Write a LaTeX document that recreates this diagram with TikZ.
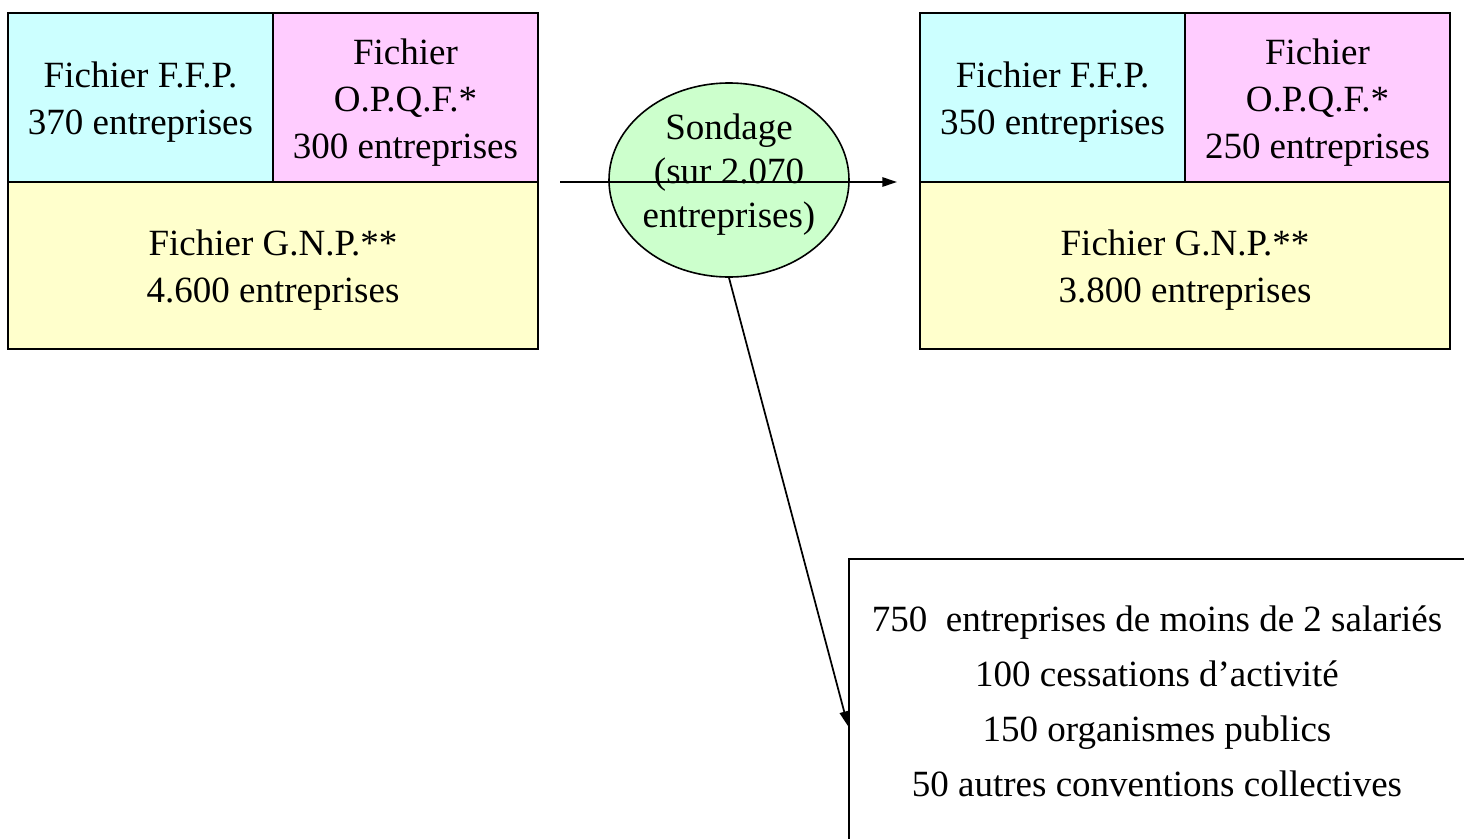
\documentclass[tikz,border=0pt]{standalone}
\usepackage{fontspec}
\setmainfont{Liberation Serif}
\usetikzlibrary{shapes.geometric,arrows.meta}
\definecolor{cyanc}{HTML}{CCFFFF}
\definecolor{pinkc}{HTML}{FFCCFF}
\definecolor{yellowc}{HTML}{FFFFCC}
\definecolor{greenc}{HTML}{CCFFCC}
\tikzset{
  cell/.style={draw=black, line width=1.3pt},
  txt/.style={align=center, inner sep=0pt, font=\fontsize{27.75}{35.25}\selectfont},
  arr/.style={line width=1.3pt, -{Triangle[length=11pt,width=7pt]}},
}
\begin{document}
\begin{tikzpicture}[x=0.75pt,y=-0.75pt]
\useasboundingbox (0,0) rectangle (1464,839);
% left group
\draw[cell, fill=cyanc] (8,13) rectangle (273,182);
\draw[cell, fill=pinkc] (273,13) rectangle (538,182);
\draw[cell, fill=yellowc] (8,182) rectangle (538,349);
\node[txt] (lffp) at (140.5,102) {Fichier F.F.P.\\370 entreprises};
\node[txt] (lopqf) at (405.5,103) {Fichier\\O.P.Q.F.*\\300 entreprises};
\node[txt] (lgnp) at (273,270) {Fichier G.N.P.**\\4.600 entreprises};
% right group
\draw[cell, fill=cyanc] (920,13) rectangle (1185,182);
\draw[cell, fill=pinkc] (1185,13) rectangle (1450,182);
\draw[cell, fill=yellowc] (920,182) rectangle (1450,349);
\node[txt] (rffp) at (1052.5,102) {Fichier F.F.P.\\350 entreprises};
\node[txt] (ropqf) at (1317.5,103) {Fichier\\O.P.Q.F.*\\250 entreprises};
\node[txt] (rgnp) at (1185,270) {Fichier G.N.P.**\\3.800 entreprises};
% ellipse
\node[ellipse, draw=black, line width=1.2pt, fill=greenc, inner sep=0pt,
      minimum width=180pt, minimum height=145.5pt] (sond) at (729,180) {};
\node[txt, font=\fontsize{27.75}{33}\selectfont] (sondt) at (729,175) {Sondage\\(sur 2.070\\entreprises)};
% bottom box (only top and left edges visible)
\draw[cell] (1470,559) -- (849,559) -- (849,845);
\node[txt, font=\fontsize{27.75}{41.25}\selectfont] (res) at (1157,701)
  {750~ entreprises de moins de 2 salariés\\100 cessations d’activité\\150 organismes publics\\50 autres conventions collectives};
% connectors
\coordinate (hs) at (560,182);
\coordinate (he) at (897,182);
\coordinate (de) at (848,726);
\draw[arr] (hs) -- (he);
\draw[arr] (sond.south) -- (de);
\end{tikzpicture}
\end{document}
